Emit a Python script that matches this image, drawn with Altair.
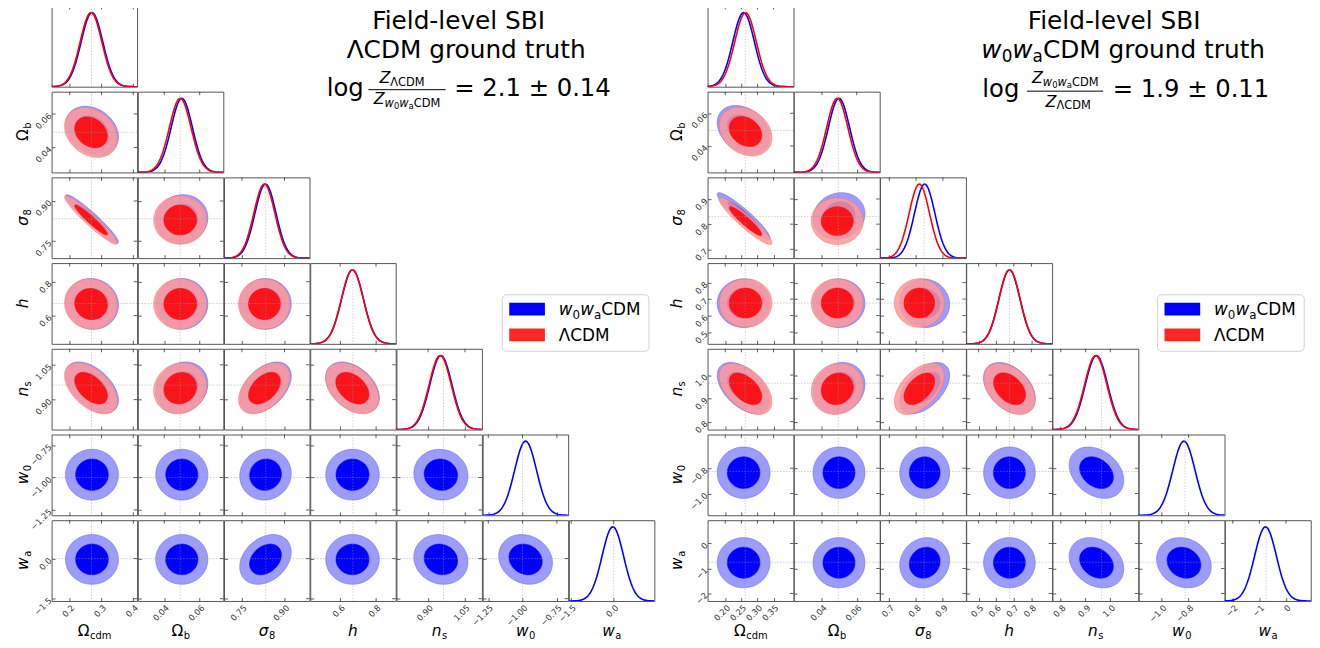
import math
import altair as alt
import pandas as pd

alt.data_transformers.disable_max_rows()

# ------------------------------------------------------------------ data
MODEL_KEYS = ["w", "L"]                      # w0waCDM (blue), LCDM (red)
PARAM_MAIN = ["Ω", "Ω", "σ", "h", "n", "w", "w"]
PARAM_SUB = ["cdm", "b", "8", "", "s", "0", "a"]
PARAM_ITALIC = [False, False, True, True, True, True, True]

# ---- left: LCDM ground truth
L_LO = [0.143, 0.0251, 0.687, 0.433, 0.771, -1.291, -1.585]
L_HI = [0.412, 0.0733, 0.988, 0.910, 1.119, -0.668, 1.437]
L_TICKS = [[0.2, 0.3, 0.4], [0.04, 0.06], [0.75, 0.90], [0.6, 0.8],
           [0.90, 1.05], [-1.25, -1.00, -0.75], [-1.5, 0.0]]
L_FMT = [".1f", ".2f", ".2f", ".1f", ".2f", ".2f", ".1f"]
L_TRUTH = [0.2685, 0.049, 0.834, 0.6711, 0.9624, -1.0, 0.0]
L_W_MEAN = [0.270, 0.0499, 0.833, 0.669, 0.952, -0.978, -0.03]
L_W_SD = [0.034, 0.0060, 0.037, 0.061, 0.045, 0.080, 0.38]
L_W_RHO = [[], [-0.25], [-0.95, 0.05], [-0.05, 0.0, 0.0],
           [-0.5, 0.15, 0.45, -0.4], [0.0, 0.0, 0.05, 0.0, -0.05],
           [0.0, 0.0, 0.3, 0.0, -0.1, -0.15]]
L_L_MEAN = [0.267, 0.0490, 0.829, 0.668, 0.949]
L_L_SD = [0.034, 0.0061, 0.037, 0.061, 0.045]
L_L_RHO = [[], [-0.25], [-0.95, 0.0], [-0.05, 0.0, 0.0], [-0.5, 0.1, 0.45, -0.4]]
L_TITLE = ["Field-level SBI", "ΛCDM ground truth"]
L_BAYES = "= 2.1 ± 0.14"

# ---- right: w0waCDM ground truth
R_LO = [0.145, 0.0238, 0.665, 0.429, 0.766, -1.172, -2.30]
R_HI = [0.412, 0.0732, 0.986, 0.918, 1.113, -0.533, 0.93]
R_TICKS = [[0.20, 0.25, 0.30, 0.35], [0.04, 0.06], [0.7, 0.8, 0.9],
           [0.5, 0.6, 0.7, 0.8], [0.8, 0.9, 1.0], [-1.0, -0.8], [-2, -1, 0]]
R_FMT = [".2f", ".2f", ".1f", ".1f", ".1f", ".1f", ".0f"]
R_TRUTH = [0.262, 0.0494, 0.830, 0.676, 0.965, -0.826, -0.75]
R_W_MEAN = [0.257, 0.0498, 0.832, 0.675, 0.944, -0.835, -0.77]
R_W_SD = [0.0335, 0.0061, 0.038, 0.060, 0.045, 0.083, 0.41]
R_W_RHO = [[], [-0.3], [-0.93, 0.1], [0.0, 0.0, -0.05],
           [-0.5, 0.15, 0.5, -0.4], [0.0, 0.0, 0.0, 0.0, -0.3],
           [0.0, 0.0, 0.1, 0.0, -0.25, -0.15]]
R_L_MEAN = [0.263, 0.0488, 0.812, 0.676, 0.941]
R_L_SD = [0.0335, 0.0061, 0.038, 0.060, 0.045]
R_L_RHO = [[], [-0.25], [-0.93, 0.0], [0.0, 0.0, 0.0], [-0.5, 0.1, 0.5, -0.4]]
R_TITLE = ["Field-level SBI", "CDM ground truth"]
R_BAYES = "= 1.9 ± 0.11"

LEGEND_TEXT = ["CDM", "ΛCDM"]
# ------------------------------------------------------------------ style
FONT = "DejaVu Sans"
BLUE, BLUE_LIGHT, BLUE_EDGE = "#0000ff", "#9c9cfb", "#6e6ef5"
RED, RED_LIGHT, RED_EDGE = "#ff0000", "#ff9999", "#f57070"
RED_ALPHA = 0.85
TICK_COL, LABEL_COL = "#333333", "#333333"
TL = 3.5
R_INNER = math.sqrt(-2 * math.log(0.32))
R_OUTER = math.sqrt(-2 * math.log(0.05))
T_GRID = [round(2 * math.pi * k / 96, 5) for k in range(97)]
U_GRID = [round(-5 + 0.1 * k, 2) for k in range(101)]

H = 81.5          # panel height (both triangles)
SP = 4.5          # vertical gap between rows
TOP = 8.0         # page y of first row
TITLE_BASE = 31.0 # page y of first title line baseline
TRI = {
    "L": dict(lo=L_LO, hi=L_HI, ticks=L_TICKS, fmt=L_FMT, truth=L_TRUTH,
              mean={"w": L_W_MEAN, "L": L_L_MEAN}, sd={"w": L_W_SD, "L": L_L_SD},
              rho={"w": L_W_RHO, "L": L_L_RHO},
              x0=51.0, W=(655.0 - 51.0) / 7, YT=-24, XT=35),
    "R": dict(lo=R_LO, hi=R_HI, ticks=R_TICKS, fmt=R_FMT, truth=R_TRUTH,
              mean={"w": R_W_MEAN, "L": R_L_MEAN}, sd={"w": R_W_SD, "L": R_L_SD},
              rho={"w": R_W_RHO, "L": R_L_RHO},
              x0=708.0, W=(1315.0 - 708.0) / 7, YT=-26, XT=35),
}
GAP = TRI["R"]["x0"] - (TRI["L"]["x0"] + 7 * TRI["L"]["W"])

# ------------------------------------------------------------------ tables
ell, gau, tru, tck = [], [], [], []
for key, c in TRI.items():
    for p in range(7):
        tru.append(dict(tri=key, p=p, v=c["truth"][p]))
        for v in c["ticks"][p]:
            tck.append(dict(tri=key, p=p, v=v))
    for m in MODEL_KEYS:
        mean, sd, rho = c["mean"][m], c["sd"][m], c["rho"][m]
        for p in range(len(mean)):
            gau.append(dict(tri=key, i=p, model=m, m=mean[p], s=sd[p], u=U_GRID))
        for j in range(1, len(mean)):
            for i in range(j):
                for lev, r in (("o", R_OUTER), ("i", R_INNER)):
                    ell.append(dict(tri=key, i=i, j=j, model=m, level=lev,
                                    mx=mean[i], sx=sd[i], my=mean[j], sy=sd[j],
                                    rho=rho[j][i], r=r, t=T_GRID))
ELL_DF = pd.DataFrame(ell)
GAU_DF = pd.DataFrame(gau)
TRU_DF = pd.DataFrame(tru)
TCK_DF = pd.DataFrame(tck)
LAB_DF = pd.DataFrame(dict(p=list(range(7)), main=PARAM_MAIN, sub=PARAM_SUB))

CW = {" ": .318, ".": .318, "=": .838, "±": .838, "-": .361, "A": .684, "B": .686,
      "C": .698, "D": .770, "F": .575, "I": .295, "M": .863, "S": .635, "Z": .685,
      "Λ": .684, "Ω": .764, "σ": .634, "a": .613, "b": .635, "c": .550, "d": .635,
      "e": .615, "g": .635, "h": .634, "i": .278, "l": .278, "m": .974, "n": .634,
      "o": .612, "r": .411, "s": .521, "t": .392, "u": .634, "v": .592, "w": .818}


def tw(s, size):
    return sum(CW.get(ch, 0.636) for ch in s) * size


def text_layer(txt, x, y, size, italic=False):
    kw = dict(align="left", baseline="alphabetic", fontSize=size, font=FONT, color="black")
    if italic:
        kw["fontStyle"] = "italic"
    return alt.Chart(pd.DataFrame({"s": [txt]})).mark_text(**kw).encode(
        x=alt.value(x), y=alt.value(y), text="s:N")


def spans(items, x, y, anchor="left"):
    total = sum(tw(t, s) for t, s, it, dy in items)
    if anchor == "center":
        x -= total / 2
    out = []
    for t, s, it, dy in items:
        out.append(text_layer(t, x, y + dy, s, it))
        x += tw(t, s)
    return out


def model_spans(big, small, dy, rest):
    return [("w", big, True, 0), ("0", small, False, dy), ("w", big, True, 0),
            ("a", small, False, dy), (rest, big, False, 0)]


def blank(width):
    return (alt.Chart(pd.DataFrame({"s": [0]})).mark_point(opacity=0, size=1)
            .encode(x=alt.value(width / 2), y=alt.value(H / 2))
            .properties(width=width, height=H, view=alt.ViewBackground(stroke="transparent")))


# ------------------------------------------------------------------ panels
def make_panel(key, i, j):
    c = TRI[key]
    W = c["W"]
    xs = alt.Scale(domain=[c["lo"][i], c["hi"][i]], nice=False, zero=False)
    xa = alt.Axis(values=c["ticks"][i], format=c["fmt"][i], labels=(j == 6), ticks=True,
                  tickSize=TL, tickColor=TICK_COL, tickWidth=0.8, offset=-TL, domain=False,
                  grid=False, title=None, labelAngle=-45, labelAlign="right",
                  labelBaseline="top", labelFontSize=8.5, labelColor=LABEL_COL, labelPadding=2,
                  labelFlush=False, labelOverlap=False, labelBound=False, labelFont=FONT)
    diag = i == j
    if diag:
        ys = alt.Scale(domain=[0, 1.09], nice=False, zero=False)
        ya = None
    else:
        ys = alt.Scale(domain=[c["lo"][j], c["hi"][j]], nice=False, zero=False)
        ya = alt.Axis(values=c["ticks"][j], format=c["fmt"][j], labels=(i == 0), ticks=True,
                      tickSize=TL, tickColor=TICK_COL, tickWidth=0.8, offset=-TL, domain=False,
                      grid=False, title=None, labelAngle=-45, labelAlign="right",
                      labelBaseline="middle", labelFontSize=8.5, labelColor=LABEL_COL,
                      labelPadding=2, labelFlush=False, labelOverlap=False, labelBound=False,
                      labelFont=FONT)

    def X(f):
        return alt.X(f, scale=xs, axis=xa)

    def Y(f):
        return alt.Y(f, scale=ys, axis=ya)

    layers = []
    models = [m for m in MODEL_KEYS if (m == "w" or (i < 5 and j < 5))]
    if diag:
        for m in models:
            col = BLUE if m == "w" else RED
            layers.append(
                alt.Chart(GAU_DF)
                .transform_filter(f"datum.tri=='{key}' && datum.i=={i} && datum.model=='{m}'")
                .transform_flatten(["u"])
                .transform_calculate(gx="datum.m + datum.u*datum.s",
                                     gy="exp(-0.5*datum.u*datum.u)")
                .mark_line(color=col, strokeWidth=1.6, clip=True)
                .encode(x=X("gx:Q"), y=Y("gy:Q"), order=alt.Order("u:Q")))
    else:
        for m in models:
            for lev in ("o", "i"):
                if m == "w":
                    fillc = BLUE_LIGHT if lev == "o" else BLUE
                    edge = BLUE_EDGE if lev == "o" else BLUE
                    op = 1.0
                else:
                    fillc = RED_LIGHT if lev == "o" else RED
                    edge = RED_EDGE if lev == "o" else RED
                    op = RED_ALPHA
                layers.append(
                    alt.Chart(ELL_DF)
                    .transform_filter(f"datum.tri=='{key}' && datum.i=={i} && datum.j=={j} "
                                      f"&& datum.model=='{m}' && datum.level=='{lev}'")
                    .transform_flatten(["t"])
                    .transform_calculate(
                        ex="datum.mx + datum.r*datum.sx*cos(datum.t)",
                        ey="datum.my + datum.r*datum.sy*(datum.rho*cos(datum.t) + "
                           "sqrt(1-datum.rho*datum.rho)*sin(datum.t))")
                    .mark_line(fill=fillc, stroke=edge, strokeWidth=0.6, fillOpacity=op,
                               strokeOpacity=op, clip=True)
                    .encode(x=X("ex:Q"), y=Y("ey:Q"), order=alt.Order("t:Q")))
    # truth crosshair
    layers.append(
        alt.Chart(TRU_DF).transform_filter(f"datum.tri=='{key}' && datum.p=={i}")
        .mark_rule(color="#999999", strokeWidth=0.7, strokeDash=[1.5, 1.5], opacity=0.7)
        .encode(x=X("v:Q")))
    if not diag:
        layers.append(
            alt.Chart(TRU_DF).transform_filter(f"datum.tri=='{key}' && datum.p=={j}")
            .mark_rule(color="#999999", strokeWidth=0.7, strokeDash=[1.5, 1.5], opacity=0.7)
            .encode(y=Y("v:Q")))
    # top / right ticks (inward)
    layers.append(
        alt.Chart(TCK_DF).transform_filter(f"datum.tri=='{key}' && datum.p=={i}")
        .mark_rule(color=TICK_COL, strokeWidth=0.8)
        .encode(x=X("v:Q"), y=alt.value(0), y2=alt.value(TL)))
    if not diag:
        layers.append(
            alt.Chart(TCK_DF).transform_filter(f"datum.tri=='{key}' && datum.p=={j}")
            .mark_rule(color=TICK_COL, strokeWidth=0.8)
            .encode(y=Y("v:Q"), x=alt.value(W - TL), x2=alt.value(W)))
    # x axis title
    if j == 6:
        mw = tw(PARAM_MAIN[i], 15.5)
        sw = tw(PARAM_SUB[i], 10)
        x0 = W / 2 - (mw + sw) / 2
        layers.append(alt.Chart(LAB_DF).transform_filter(f"datum.p=={i}")
                      .mark_text(align="left", baseline="alphabetic", fontSize=15.5, font=FONT,
                                 fontStyle="italic" if PARAM_ITALIC[i] else "normal", color="black")
                      .encode(x=alt.value(x0), y=alt.value(H + c["XT"]), text="main:N"))
        if PARAM_SUB[i]:
            layers.append(alt.Chart(LAB_DF).transform_filter(f"datum.p=={i}")
                          .mark_text(align="left", baseline="alphabetic", fontSize=10, font=FONT,
                                     color="black")
                          .encode(x=alt.value(x0 + mw + 0.5), y=alt.value(H + c["XT"] + 3.5),
                                  text="sub:N"))
    # y axis title
    if i == 0 and j > 0:
        mw = tw(PARAM_MAIN[j], 15.5)
        sw = tw(PARAM_SUB[j], 10)
        y0 = H / 2 + (mw + sw) / 2
        layers.append(alt.Chart(LAB_DF).transform_filter(f"datum.p=={j}")
                      .mark_text(align="left", baseline="alphabetic", fontSize=15.5, font=FONT,
                                 angle=270,
                                 fontStyle="italic" if PARAM_ITALIC[j] else "normal", color="black")
                      .encode(x=alt.value(c["YT"]), y=alt.value(y0), text="main:N"))
        if PARAM_SUB[j]:
            layers.append(alt.Chart(LAB_DF).transform_filter(f"datum.p=={j}")
                          .mark_text(align="left", baseline="alphabetic", fontSize=10, font=FONT,
                                     angle=270, color="black")
                          .encode(x=alt.value(c["YT"] + 3.5), y=alt.value(y0 - mw - 0.5),
                                  text="sub:N"))
    return alt.layer(*layers).properties(width=W, height=H)


def title_chart(key):
    c = TRI[key]
    ox, oy = c["x0"] + c["W"], TOP
    L = []
    if key == "L":
        L += spans([(L_TITLE[0], 25, False, 0)], 462 - ox, TITLE_BASE - oy, "center")
        L += spans([(L_TITLE[1], 25, False, 0)], 469 - ox, 60.5 - oy, "center")
        L += spans([("log", 24.5, False, 0)], 328 - ox, 99 - oy)
        L += spans([("Z", 16, True, 0), ("ΛCDM", 11.5, False, 2.5)], 404 - ox, 86 - oy, "center")
        L += spans([("Z", 16, True, 0), ("w", 11.5, True, 2.5), ("0", 8.5, False, 4.5),
                    ("w", 11.5, True, 2.5), ("a", 8.5, False, 4.5), ("CDM", 11.5, False, 2.5)],
                   409 - ox, 107 - oy, "center")
        bar = (370 - ox, 448 - ox, 92.5 - oy)
        L += spans([(L_BAYES, 24.5, False, 0)], 456.7 - ox, 99 - oy)
    else:
        L += spans([(R_TITLE[0], 25, False, 0)], 1119 - ox, TITLE_BASE - oy, "center")
        L += spans(model_spans(25, 17, 4, R_TITLE[1]), 1127.5 - ox, 60.5 - oy, "center")
        L += spans([("log", 24.5, False, 0)], 985 - ox, 100 - oy)
        L += spans([("Z", 16, True, 0), ("w", 11.5, True, 2.5), ("0", 8.5, False, 4.5),
                    ("w", 11.5, True, 2.5), ("a", 8.5, False, 4.5), ("CDM", 11.5, False, 2.5)],
                   1068.7 - ox, 86 - oy, "center")
        L += spans([("Z", 16, True, 0), ("ΛCDM", 11.5, False, 2.5)], 1071.7 - ox, 110 - oy, "center")
        bar = (1030 - ox, 1107 - ox, 94 - oy)
        L += spans([(R_BAYES, 24.5, False, 0)], 1116.7 - ox, 100 - oy)
    L.append(alt.Chart(pd.DataFrame({"s": [0]})).mark_rule(color="black", strokeWidth=1)
             .encode(x=alt.value(bar[0]), x2=alt.value(bar[1]), y=alt.value(bar[2])))
    return alt.layer(*L).properties(width=c["W"], height=H,
                                    view=alt.ViewBackground(stroke="transparent"))


def legend_chart(key):
    c = TRI[key]
    ox = c["x0"] + 4 * c["W"]
    oy = TOP + 3 * (H + SP)
    bx0 = 503.0 if key == "L" else 1161.0
    bx1 = bx0 + 148
    by0, by1 = 298.0, 355.0
    one = pd.DataFrame({"s": [0]})
    L = [alt.Chart(one).mark_rect(fill="white", stroke="#cccccc", strokeWidth=1, cornerRadius=4,
                                  opacity=0.9)
         .encode(x=alt.value(bx0 - ox), x2=alt.value(bx1 - ox), y=alt.value(by0 - oy),
                 y2=alt.value(by1 - oy))]
    for col, yc in ((BLUE, 312.5), ("#ff2626", 338.5)):
        L.append(alt.Chart(one).mark_rect(fill=col)
                 .encode(x=alt.value(bx0 + 7 - ox), x2=alt.value(bx0 + 43 - ox),
                         y=alt.value(yc - 6.5 - oy), y2=alt.value(yc + 6.5 - oy)))
    L += spans(model_spans(17, 12, 3.5, LEGEND_TEXT[0]), bx0 + 57 - ox, 318.5 - oy)
    L += spans([(LEGEND_TEXT[1], 17, False, 0)], bx0 + 57 - ox, 344.5 - oy)
    return alt.layer(*L).properties(width=c["W"], height=H,
                                    view=alt.ViewBackground(stroke="transparent"))


cells = []
for j in range(7):
    for key in ("L", "R"):
        W = TRI[key]["W"]
        for i in range(7):
            if i <= j:
                cells.append(make_panel(key, i, j))
            elif j == 0 and i == 1:
                cells.append(title_chart(key))
            elif j == 3 and i == 4:
                cells.append(legend_chart(key))
            else:
                cells.append(blank(W))
        if key == "L":
            cells.append(blank(GAP))

# the title's font box reaches ~29px above its baseline; pull the view up so the panels
# start at the top of the page as in the reference
chart = (alt.concat(*cells, columns=15, spacing={"row": SP, "column": 0}, bounds="flush")
         .properties(padding={"left": 7, "top": -6, "right": 0, "bottom": 0})
         .configure_view(stroke="#555555", strokeWidth=1)
         .configure_axis(labelFont=FONT))

chart.save("out.html", embed_options={"renderer": "svg", "actions": False})
